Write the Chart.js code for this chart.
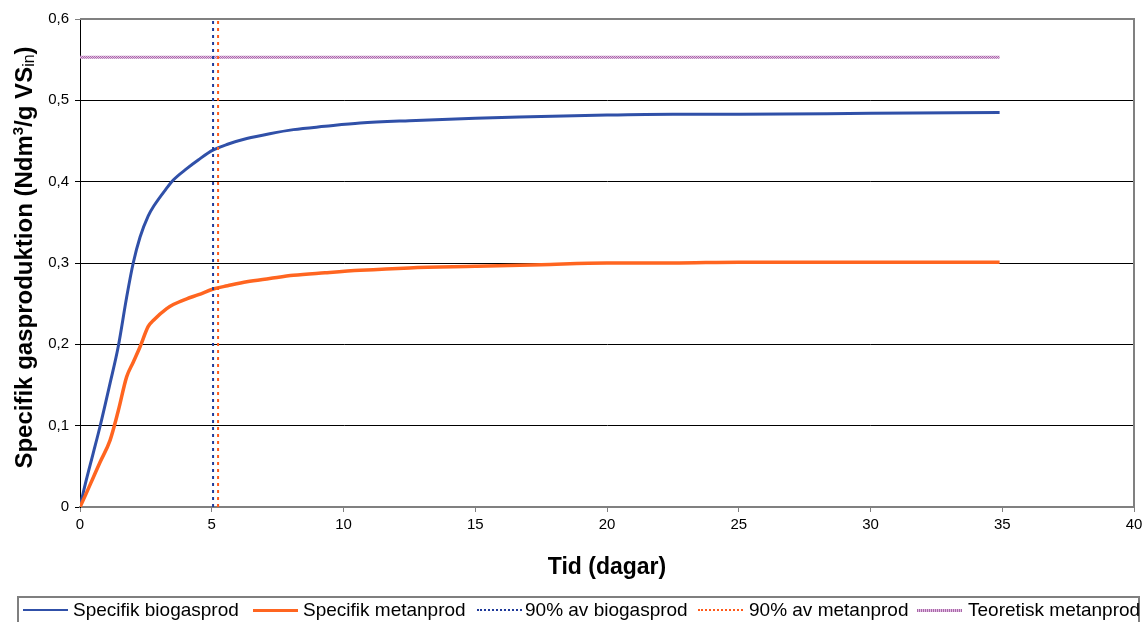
<!DOCTYPE html>
<html><head><meta charset="utf-8">
<script src="https://cdn.jsdelivr.net/npm/chart.js@4/dist/chart.umd.min.js"></script>
<style>
html,body{margin:0;padding:0;background:#fff;overflow:hidden;}
#wrap{position:absolute;left:0;top:0;width:1144px;height:594px;}
#legend{position:absolute;left:0;top:0;width:1144px;height:622px;pointer-events:none;font-family:"Liberation Sans",Arial,sans-serif;font-size:19px;color:#000;}
#box{position:absolute;left:17px;top:596px;width:1123px;height:40px;border:2px solid #7f7f7f;box-sizing:border-box;}
.it{position:absolute;top:599px;white-space:nowrap;line-height:22px;}
.ln{position:absolute;top:609px;width:45px;}
</style></head><body>
<div id="wrap"><canvas id="c"></canvas></div>
<div id="legend"><div id="box"></div></div>
<script>
const tidDagar = [0, 0.2, 0.5, 0.76, 1.14, 1.45, 1.77, 2.02, 2.28, 2.59, 2.8, 3.29, 3.54, 4.05, 4.5, 5.06, 5.6, 6.33, 7.2, 8.1, 9.3, 10.63, 12.5, 15, 17.5, 20, 22.5, 25, 30, 34.9];
const biogas = [0, 0.028, 0.066, 0.099, 0.152, 0.197, 0.258, 0.30, 0.332, 0.358, 0.370, 0.392, 0.402, 0.416, 0.427, 0.439, 0.446, 0.453, 0.459, 0.464, 0.468, 0.472, 0.475, 0.478, 0.480, 0.482, 0.483, 0.483, 0.484, 0.485];
const metan = [0, 0.014, 0.036, 0.055, 0.082, 0.118, 0.160, 0.178, 0.197, 0.222, 0.230, 0.244, 0.249, 0.256, 0.261, 0.268, 0.272, 0.277, 0.281, 0.285, 0.288, 0.291, 0.294, 0.296, 0.298, 0.300, 0.300, 0.301, 0.301, 0.301];
const bio90 = 5.05;
const metan90 = 5.24;
const teoretisk = 0.553;
const teoretiskEnd = 34.9;
const xTicks = [0,5,10,15,20,25,30,35,40];
const yTicks = [0,0.1,0.2,0.3,0.4,0.5,0.6];
const seriesNames = ["Specifik biogasprod","Specifik metanprod","90% av biogasprod","90% av metanprod","Teoretisk metanprod"];

const BLUE = '#3050a8', ORANGE = '#ff6520', DBLUE = '#1f3a9a', DORANGE = '#ff5a1a';
const pc = document.createElement('canvas'); pc.width = 2; pc.height = 2;
const pctx = pc.getContext('2d');
pctx.fillStyle = '#e4bfe4'; pctx.fillRect(0,0,2,2);
pctx.fillStyle = '#a868a8'; pctx.fillRect(0,0,1,1); pctx.fillRect(1,1,1,1);
const ctx0 = document.getElementById('c').getContext('2d');
const purplePat = ctx0.createPattern(pc, 'repeat');

const toPts = (xs, ys) => xs.map((x,i)=>({x:x, y:ys[i]}));
const FONT = '"Liberation Sans", Arial, sans-serif';

const frame = {
  id:'frame',
  afterDraw(chart){
    const {ctx, chartArea:a} = chart;
    ctx.save();
    ctx.strokeStyle = '#808080'; ctx.lineWidth = 2;
    ctx.beginPath();
    ctx.moveTo(a.left, a.top); ctx.lineTo(a.right, a.top); ctx.lineTo(a.right, a.bottom);
    ctx.stroke();
    ctx.fillStyle = '#000';
    ctx.font = 'bold 23px ' + FONT;
    ctx.textAlign = 'center'; ctx.textBaseline = 'alphabetic';
    ctx.fillText('Tid (dagar)', (a.left + a.right)/2, 574);
    ctx.translate(0, 257.5);
    ctx.rotate(-Math.PI/2);
    ctx.textAlign = 'left';
    const parts = [
      {t:'Specifik gasproduktion (Ndm', f:'bold 24px ', dy:0},
      {t:'3', f:'bold 15px ', dy:-9},
      {t:'/g VS', f:'bold 24px ', dy:0},
      {t:'in', f:'16px ', dy:2},
      {t:')', f:'bold 24px ', dy:0}
    ];
    let w = 0;
    parts.forEach(p=>{ctx.font = p.f + FONT; w += ctx.measureText(p.t).width;});
    let x = -w/2;
    parts.forEach(p=>{ctx.font = p.f + FONT; ctx.fillText(p.t, x, 32 + p.dy); x += ctx.measureText(p.t).width;});
    ctx.restore();
  }
};

new Chart(ctx0, {
  type:'scatter',
  data:{datasets:[
    {label:seriesNames[0], data:toPts(tidDagar, biogas), showLine:true, borderColor:BLUE, borderWidth:3, pointRadius:0, cubicInterpolationMode:'monotone', order:2},
    {label:seriesNames[1], data:toPts(tidDagar, metan), showLine:true, borderColor:ORANGE, borderWidth:3.5, pointRadius:0, cubicInterpolationMode:'monotone', order:1},
    {label:seriesNames[2], data:[{x:bio90,y:0},{x:bio90,y:0.6}], showLine:true, borderColor:DBLUE, borderWidth:2, borderDash:[3,4], pointRadius:0},
    {label:seriesNames[3], data:[{x:metan90,y:0},{x:metan90,y:0.6}], showLine:true, borderColor:DORANGE, borderWidth:2, borderDash:[3,4], pointRadius:0},
    {label:seriesNames[4], data:[{x:0,y:teoretisk},{x:teoretiskEnd,y:teoretisk}], showLine:true, borderColor:purplePat, borderWidth:3, pointRadius:0}
  ]},
  options:{
    responsive:true, maintainAspectRatio:false, animation:false,
    layout:{padding:{top:19, right:10, left:0, bottom:0}},
    plugins:{legend:{display:false}, tooltip:{enabled:false}},
    scales:{
      x:{type:'linear', min:0, max:40,
        afterBuildTicks(s){ s.ticks = xTicks.map(v=>({value:v})); },
        afterFit(s){ s.height = 87; s.paddingRight = 0; s.paddingLeft = 0; },
        grid:{drawOnChartArea:false, drawTicks:true, tickLength:5, color:'#808080'},
        border:{color:'#808080', width:2},
        ticks:{color:'#000', font:{family:FONT, size:15}, padding:4, maxRotation:0}
      },
      y:{type:'linear', min:0, max:0.6,
        afterBuildTicks(s){ s.ticks = yTicks.map(v=>({value:v})); },
        afterFit(s){ s.width = 80; s.paddingTop = 0; s.paddingBottom = 0; },
        grid:{color:(c)=> (c.tick && c.tick.value >= 0.6) ? '#808080' : '#000', lineWidth:1, tickLength:5, drawTicks:true},
        border:{color:'#000', width:1},
        ticks:{color:'#000', font:{family:FONT, size:15}, padding:6,
          callback:(v)=> v===0 ? '0' : String(Math.round(v*10)/10).replace('.', ',')}
      }
    }
  },
  plugins:[frame]
});

const leg = document.getElementById('legend');
const lineX = [23, 253, 477, 698, 917];
const textX = [73, 303, 525, 749, 968];
const styles = [
  'height:0;border-top:2.5px solid '+BLUE,
  'height:0;border-top:3px solid '+ORANGE,
  'height:0;border-top:2px dotted '+DBLUE,
  'height:0;border-top:2px dotted '+DORANGE,
  'height:3px;background:repeating-linear-gradient(90deg,#a868a8 0 1px,#e4bfe4 1px 2px)'
];
seriesNames.forEach((n,i)=>{
  const l = document.createElement('div'); l.className='ln';
  l.style.cssText += 'left:'+lineX[i]+'px;'+styles[i];
  leg.appendChild(l);
  const t = document.createElement('div'); t.className='it';
  t.style.left = textX[i]+'px'; t.textContent = n;
  leg.appendChild(t);
});
</script>
</body></html>
